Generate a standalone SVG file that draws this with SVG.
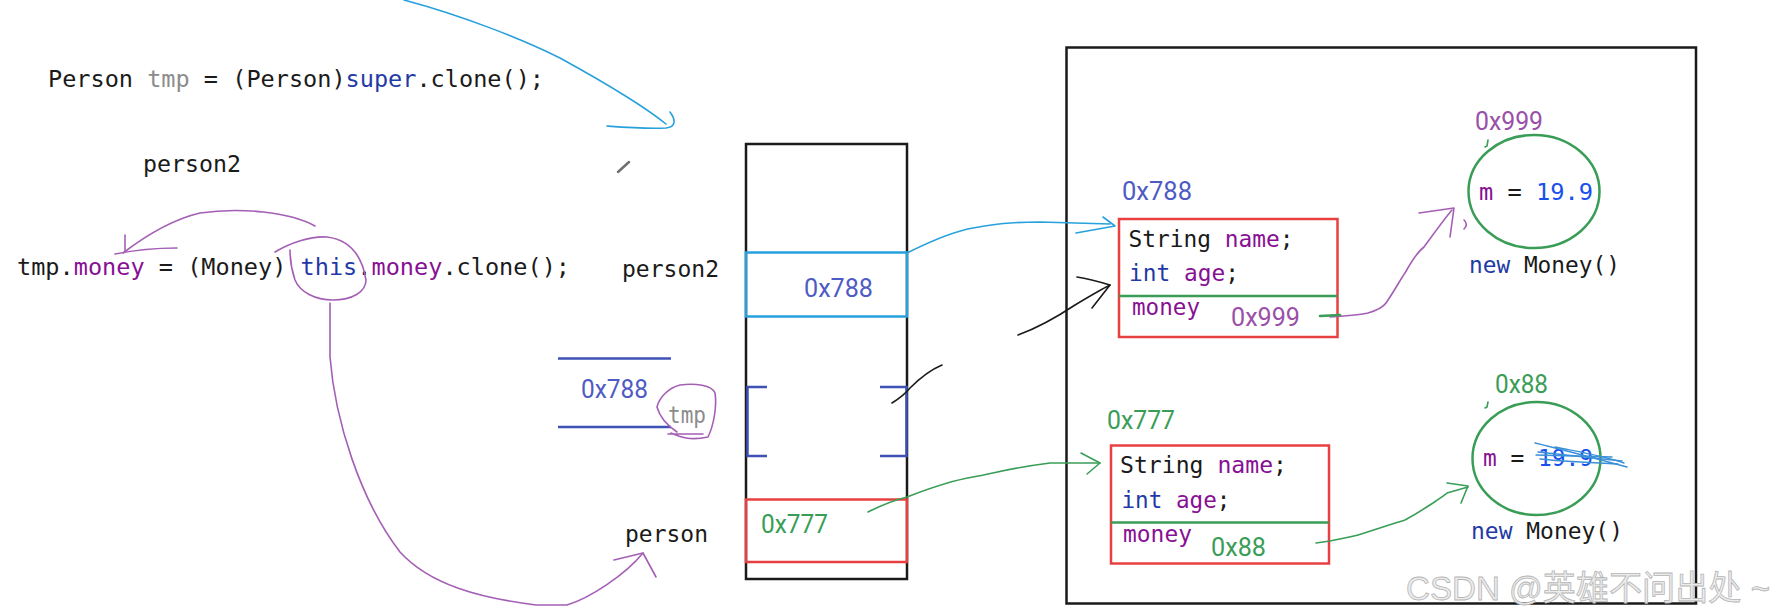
<svg xmlns="http://www.w3.org/2000/svg" width="1782" height="615" viewBox="0 0 1782 615">
<defs>
<style>
.code{font-family:"DejaVu Sans Mono","Liberation Mono",monospace;font-size:23px;fill:#1a1a1a}
.addr{font-family:Roboto,"Liberation Sans",sans-serif;font-size:25px}
.kw{fill:#1f3aa6}
.fld{fill:#871094}
.gr{fill:#8c8c8c}
.num{fill:#1750eb}
.ind{fill:#4e5bc4}
.pur{fill:#9a50a8}
.grn{fill:#3a9d57}
.box{fill:none;stroke:#1a1a1a;stroke-width:2.5}
.red{fill:none;stroke:#e84040;stroke-width:2.5}
.hand{fill:none;stroke-width:1.6;stroke-linecap:round;stroke-linejoin:round}
.hp{stroke:#a45fb5}
.hb{stroke:#1a1a1a}
.hc{stroke:#28a0dc}
.hg{stroke:#3a9d57}
</style>
</defs>
<rect width="1782" height="615" fill="#ffffff"/>

<g id="code-line1">
<text class="code" x="48" y="87" textLength="496" lengthAdjust="spacingAndGlyphs">Person <tspan class="gr">tmp</tspan> = (Person)<tspan class="kw">super</tspan>.clone();</text>
</g>
<g id="code-person2">
<text class="code" x="143" y="172" textLength="98" lengthAdjust="spacingAndGlyphs">person2</text>
</g>
<g id="code-line3">
<text class="code" x="17" y="275" textLength="553" lengthAdjust="spacingAndGlyphs">tmp.<tspan class="fld">money</tspan> = (Money) <tspan class="kw">this</tspan>.<tspan class="fld">money</tspan>.clone();</text>
</g>
<g id="pencil">
<line x1="618" y1="172" x2="629" y2="162" stroke="#707070" stroke-width="2.5" stroke-linecap="round"/>
</g>

<g id="stack">
<rect class="box" x="746" y="144" width="161" height="435"/>
</g>
<g id="slot-person2">
<rect x="746" y="252.5" width="161" height="64" fill="none" stroke="#28a0dc" stroke-width="2.5"/>
<text class="addr ind" x="804" y="297" textLength="69" lengthAdjust="spacingAndGlyphs">0x788</text>
<text class="code" x="622" y="277" textLength="97" lengthAdjust="spacingAndGlyphs">person2</text>
</g>
<g id="slot-tmp">
<path d="M767,387 L747.5,387 L747.5,456 L767,456 M880,387 L906.5,387 L906.5,456 L880,456" fill="none" stroke="#3f51b5" stroke-width="2.5"/>
<line x1="558" y1="358.5" x2="671" y2="358.5" stroke="#3f51b5" stroke-width="2.5"/>
<line x1="558" y1="427" x2="671" y2="427" stroke="#3f51b5" stroke-width="2.5"/>
<text class="addr ind" x="581" y="398" textLength="67" lengthAdjust="spacingAndGlyphs">0x788</text>
<text class="code gr" x="668" y="423" textLength="38" lengthAdjust="spacingAndGlyphs">tmp</text>
</g>
<g id="slot-person">
<rect class="red" x="746" y="499.5" width="161" height="62.5"/>
<text class="addr grn" x="761" y="533" textLength="67" lengthAdjust="spacingAndGlyphs">0x777</text>
<text class="code" x="625" y="542" textLength="83" lengthAdjust="spacingAndGlyphs">person</text>
</g>

<g id="heap">
<rect class="box" x="1066.5" y="47.5" width="629.5" height="556"/>
</g>
<g id="object-0x788">
<text class="addr ind" x="1122" y="200" textLength="70" lengthAdjust="spacingAndGlyphs">0x788</text>
<rect class="red" x="1119" y="219" width="218.5" height="118"/>
<line x1="1119" y1="296" x2="1337.5" y2="296" stroke="#3a9d57" stroke-width="2.5"/>
<text class="code" x="1128.5" y="247" textLength="165" lengthAdjust="spacingAndGlyphs">String <tspan class="fld">name</tspan>;</text>
<text class="code" x="1129" y="281" textLength="110" lengthAdjust="spacingAndGlyphs"><tspan class="kw">int</tspan> <tspan class="fld">age</tspan>;</text>
<text class="code fld" x="1132" y="315" textLength="68" lengthAdjust="spacingAndGlyphs">money</text>
<text class="addr pur" x="1231" y="326" textLength="69" lengthAdjust="spacingAndGlyphs">0x999</text>
</g>
<g id="object-0x777">
<text class="addr grn" x="1107" y="429" textLength="68" lengthAdjust="spacingAndGlyphs">0x777</text>
<rect class="red" x="1111" y="445.5" width="218" height="118"/>
<line x1="1111" y1="522.5" x2="1329" y2="522.5" stroke="#3a9d57" stroke-width="2.5"/>
<text class="code" x="1120" y="473" textLength="167" lengthAdjust="spacingAndGlyphs">String <tspan class="fld">name</tspan>;</text>
<text class="code" x="1121.5" y="508" textLength="109" lengthAdjust="spacingAndGlyphs"><tspan class="kw">int</tspan> <tspan class="fld">age</tspan>;</text>
<text class="code fld" x="1123" y="542" textLength="69" lengthAdjust="spacingAndGlyphs">money</text>
<text class="addr grn" x="1211" y="556" textLength="55" lengthAdjust="spacingAndGlyphs">0x88</text>
</g>
<g id="money-0x999">
<text class="addr pur" x="1475" y="130" textLength="68" lengthAdjust="spacingAndGlyphs">0x999</text>
<ellipse cx="1534" cy="191.5" rx="65.5" ry="56.5" fill="none" stroke="#3a9d57" stroke-width="2.5"/>
<text class="code" x="1479" y="200" textLength="114" lengthAdjust="spacingAndGlyphs"><tspan class="fld">m</tspan> = <tspan class="num">19.9</tspan></text>
<text class="code" x="1469" y="273" textLength="151" lengthAdjust="spacingAndGlyphs"><tspan class="kw">new</tspan> Money()</text>
<path class="hand hg" d="M1488,140 L1487,146 L1485,147"/>
<path class="hand hp" d="M1464,220 C1467,223 1467,226 1464,229"/>
</g>
<g id="money-0x88">
<text class="addr grn" x="1495" y="393" textLength="53" lengthAdjust="spacingAndGlyphs">0x88</text>
<ellipse cx="1536.5" cy="458.5" rx="64" ry="56.5" fill="none" stroke="#3a9d57" stroke-width="2.5"/>
<text class="code" x="1483" y="466" textLength="110" lengthAdjust="spacingAndGlyphs"><tspan class="fld">m</tspan> = <tspan class="num">19.9</tspan></text>
<text class="code" x="1471" y="539" textLength="152" lengthAdjust="spacingAndGlyphs"><tspan class="kw">new</tspan> Money()</text>
<path class="hand hg" d="M1488,402 L1487,407 L1485,408"/>
<g fill="none" stroke="#3a8fd8" stroke-width="1.4" stroke-linecap="round">
<path d="M1535,443 C1560,449 1590,457 1627,467"/>
<path d="M1538,452 C1565,455 1595,458 1622,461"/>
<path d="M1540,459 C1570,462 1600,463 1618,464"/>
<path d="M1555,447 C1580,452 1605,456 1624,463"/>
<path d="M1536,455 L1612,457"/>
</g>
</g>

<g id="connectors">
<path class="hand hc" d="M404,0 C460,15 520,38 560,58 C600,80 640,103 666,124"/>
<path class="hand hc" d="M670,112 C676,120 676,127 666,128 C645,129 620,127 607,126"/>

<path class="hand hp" d="M315,226 C290,212 240,207 200,213 C170,220 140,240 123,253"/>
<path class="hand hp" d="M125,235 L125,252 M115,254 C135,250 160,248 177,248"/>
<path class="hand hp" d="M275,252 C290,243 310,236 327,237 C350,240 362,255 366,280 C366,292 352,300 333,300 C315,300 300,292 295,280 C291,268 290,258 290,250"/>
<path class="hand hp" d="M330,303 L330,357 C335,420 360,500 400,552 C430,585 480,598 536,605 L567,605 C590,598 625,575 643,553"/>
<path class="hand hp" d="M614,560 L643,553 L656,577"/>
<path class="hand hp" d="M671,433 C680,437 690,441 708,437 C714,425 717,405 715,393 C712,385 695,383 680,385 C668,388 659,398 657,407 C660,418 668,426 677,432 M668,434 L703,434"/>

<path class="hand hc" d="M907,253 C925,244 950,232 973,228 C995,224 1010,222 1040,222 L1110,224"/>
<path class="hand hc" d="M1103,217 L1115,226 L1076,233"/>

<path class="hand hb" d="M892,403 C900,398 906,393 910,388 C920,378 930,370 942,365"/>
<path class="hand hb" d="M1018,335 C1040,327 1060,315 1075,305 C1090,296 1100,290 1110,285"/>
<path class="hand hb" d="M1077,277 C1090,279 1100,282 1110,285 L1092,308"/>

<path class="hand hg" d="M868,512 C880,506 895,500 907,497 C930,488 955,480 973,477 C995,473 1010,468 1050,463 L1100,463"/>
<path class="hand hg" d="M1081,453 L1100,463 L1087,474"/>

<path class="hand hp" d="M1330,317 C1345,316 1360,315 1368,313 C1378,310 1384,306 1386,303 C1395,290 1400,280 1405,273 C1415,255 1420,250 1424,247 C1435,232 1445,218 1452,210"/>
<path class="hand hp" d="M1419,213 L1454,208 L1450,237"/>
<path d="M1320,316 L1340,315" stroke="#3a9d57" stroke-width="2.5" fill="none" stroke-linecap="round"/>

<path class="hand hg" d="M1316,543 L1330,541 C1345,538 1355,536 1358,535 C1380,528 1395,523 1405,520 C1420,512 1428,506 1433,503 C1440,498 1445,495 1447,493 L1468,487"/>
<path class="hand hg" d="M1447,483 L1468,486 L1461,503"/>
</g>

<g id="watermark">
<text x="1406" y="600" font-family="Liberation Sans,Noto Sans CJK SC,sans-serif" font-size="34" fill="#ececec" stroke="#b5b5b5" stroke-width="0.8" textLength="364" lengthAdjust="spacingAndGlyphs">CSDN @英雄不问出处 ~</text>
</g>
</svg>
